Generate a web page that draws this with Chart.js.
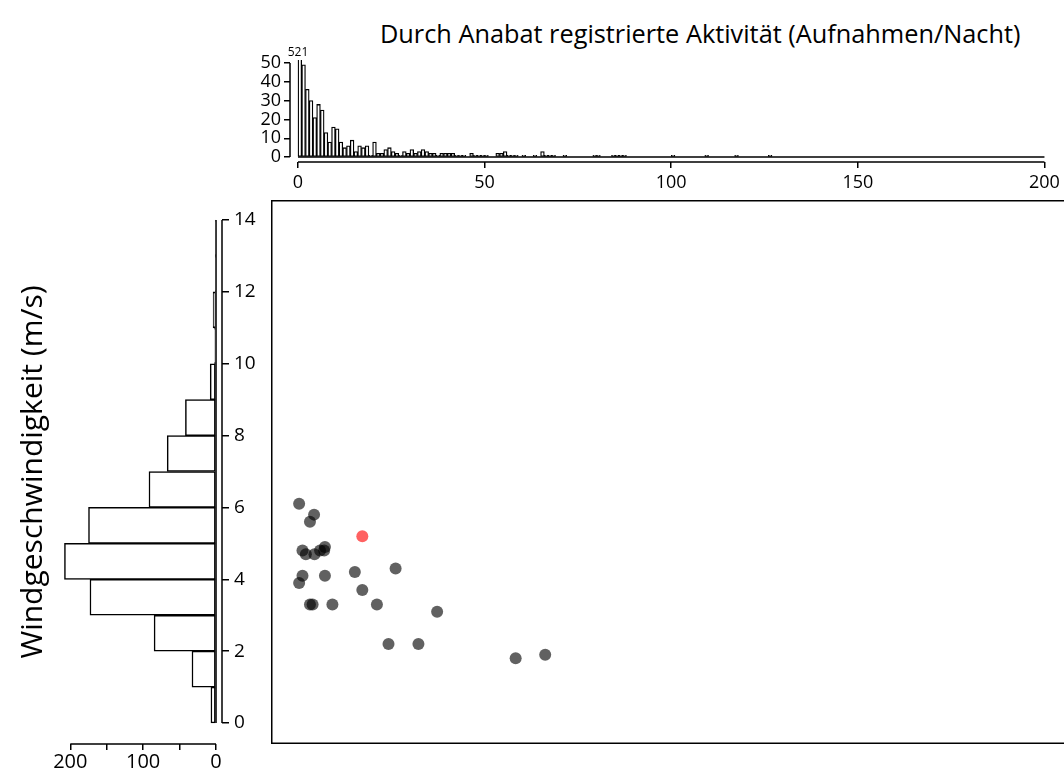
<!DOCTYPE html>
<html>
<head>
<meta charset="utf-8">
<script src="https://cdn.jsdelivr.net/npm/chart.js@4.4.1/dist/chart.umd.min.js"></script>
<style>
  html, body { margin: 0; padding: 0; background: #fff; overflow: hidden; width: 1064px; height: 776px; }
  #title { position: absolute; left: 380px; top: 16px; font-family: "Open Sans", "Noto Sans", sans-serif; font-size: 25.3px; line-height: 34px; white-space: nowrap; color: #000; }
  canvas { position: absolute; }
</style>
</head>
<body>
<div id="title">Durch Anabat registrierte Aktivität (Aufnahmen/Nacht)</div>
<canvas id="top" width="1064" height="200" style="left:0;top:0"></canvas>
<canvas id="side" width="271" height="576" style="left:0;top:200px"></canvas>
<canvas id="scatter" width="800" height="544" style="left:271px;top:200px"></canvas>
<script>
const FONT = '"Open Sans", "Noto Sans", sans-serif';
Chart.defaults.font.family = FONT;
Chart.defaults.color = '#000';

// Aktivität: Anzahl Nächte je Klasse (Breite 1 Aufnahme/Nacht), ab 0
const activityCounts = [
  521, 49, 36, 30, 21, 28, 25, 13, 8, 16,
  15, 8, 5, 6, 9, 3, 6, 5, 6, 1,
  8, 2, 2, 4, 5, 3, 2, 1, 3, 2,
  4, 2, 3, 4, 3, 2, 2, 1, 2, 2,
  2, 2, 1, 1, 1, 0, 2, 1, 1, 1,
  1, 0, 0, 2, 2, 3, 1, 1, 1, 0,
  1, 0, 0, 1, 0, 3, 1, 1, 1, 0,
  0, 1, 0, 0, 0, 0, 0, 0, 0, 1,
  1, 0, 0, 0, 1, 1, 1, 1, 0, 0,
  0, 0, 0, 0, 0, 0, 0, 0, 0, 0,
  1, 0, 0, 0, 0, 0, 0, 0, 0, 1,
  0, 0, 0, 0, 0, 0, 0, 1, 0, 0,
  0, 0, 0, 0, 0, 0, 1
];
const activityTicks = [0, 50, 100, 150, 200];
const activityCountTicks = [0, 10, 20, 30, 40, 50];

// Windgeschwindigkeit: Anzahl Nächte je Klasse 0-1, 1-2, ... m/s
const windCounts = [7, 33, 85, 173, 208, 175, 92, 67, 42, 8, 2, 4, 1, 1];
const windTicks = [0, 2, 4, 6, 8, 10, 12, 14];
const windCountTicks = [0, 50, 100, 150, 200];
const windCountLabels = [0, 100, 200];

// einzelne Nächte
const nightActivity = [0.3, 4.3, 3.2, 1.2, 2.1, 4.4, 5.9, 7.2, 7.0, 15.2, 26.1, 1.2, 7.2,
                       0.3, 17.2, 3.2, 3.9, 9.2, 21.1, 37.2, 24.2, 32.2, 58.2, 66.1];
const nightWind = [6.1, 5.8, 5.6, 4.8, 4.7, 4.7, 4.8, 4.9, 4.8, 4.2, 4.3, 4.1, 4.1,
                   3.9, 3.7, 3.3, 3.3, 3.3, 3.3, 3.1, 2.2, 2.2, 1.8, 1.9];
const markedActivity = [17.2];
const markedWind = [5.2];

const LW = 1.5;
const fixTicks = values => scale => { scale.ticks = values.map(v => ({ value: v })); };
const tickGrid = len => ({ display: true, drawOnChartArea: false, drawTicks: true, tickLength: len, color: '#000', lineWidth: LW, offset: false });
const common = {
  responsive: false,
  animation: false,
  devicePixelRatio: 1,
  plugins: { legend: { display: false }, tooltip: { enabled: false } }
};

// R-artige Achsen: Linie nur vom ersten bis zum letzten Tick
const topAxes = {
  id: 'topAxes',
  afterDatasetsDraw(chart) {
    const { ctx, chartArea: a, scales: { x, y } } = chart;
    const x0 = x.getPixelForValue(activityTicks[0]);
    const x1 = x.getPixelForValue(activityTicks[activityTicks.length - 1]);
    ctx.save();
    ctx.strokeStyle = '#000';
    ctx.lineWidth = LW;
    ctx.beginPath();
    const yb = y.getPixelForValue(0);
    ctx.moveTo(x0, yb); ctx.lineTo(x1, yb);
    ctx.moveTo(x0, a.bottom); ctx.lineTo(x1, a.bottom);
    ctx.moveTo(a.left, y.getPixelForValue(activityCountTicks[0]));
    ctx.lineTo(a.left, y.getPixelForValue(activityCountTicks[activityCountTicks.length - 1]));
    ctx.stroke();
    ctx.fillStyle = '#000';
    ctx.font = '12px ' + FONT;
    ctx.textAlign = 'center';
    ctx.textBaseline = 'bottom';
    ctx.fillText(String(activityCounts[0]), x.getPixelForValue(0), a.top - 1);
    ctx.restore();
  }
};

const sideAxes = {
  id: 'sideAxes',
  afterDatasetsDraw(chart) {
    const { ctx, chartArea: a, scales: { x, y } } = chart;
    ctx.save();
    ctx.strokeStyle = '#000';
    ctx.lineWidth = LW;
    ctx.beginPath();
    const xb = x.getPixelForValue(0);
    ctx.moveTo(xb, y.getPixelForValue(0)); ctx.lineTo(xb, y.getPixelForValue(windCounts.length));
    ctx.moveTo(a.right, y.getPixelForValue(windTicks[0]));
    ctx.lineTo(a.right, y.getPixelForValue(windTicks[windTicks.length - 1]));
    ctx.moveTo(x.getPixelForValue(windCountTicks[0]), a.bottom);
    ctx.lineTo(x.getPixelForValue(windCountTicks[windCountTicks.length - 1]), a.bottom);
    ctx.stroke();
    ctx.restore();
  }
};

const frame = {
  id: 'frame',
  afterDraw(chart) {
    const { ctx, chartArea: a } = chart;
    ctx.save();
    ctx.strokeStyle = '#000';
    ctx.lineWidth = LW;
    ctx.strokeRect(a.left + 0.75, a.top + 0.75, a.right - a.left - 1.5, a.bottom - a.top - 1.5);
    ctx.restore();
  }
};

new Chart(document.getElementById('top'), {
  type: 'bar',
  data: {
    datasets: [{
      data: activityCounts.map((c, i) => ({ x: i + 0.5, y: c })),
      backgroundColor: '#fff',
      borderColor: '#000',
      borderWidth: 1.3,
      borderSkipped: false,
      barPercentage: 1,
      categoryPercentage: 1
    }]
  },
  options: {
    ...common,
    layout: { padding: { top: 60, right: 10, left: 0, bottom: 0 } },
    scales: {
      x: {
        type: 'linear', offset: false, min: -2.14, max: 202.14,
        afterBuildTicks: fixTicks(activityTicks),
        afterFit: s => { s.height = 38; },
        grid: tickGrid(6), border: { display: false },
        ticks: { font: { size: 18 }, padding: 4, maxRotation: 0, autoSkip: false }
      },
      y: {
        min: -2.6, max: 51.6,
        afterBuildTicks: fixTicks(activityCountTicks),
        afterFit: s => { s.width = 290; s.paddingTop = 0; s.paddingBottom = 0; },
        grid: tickGrid(6), border: { display: false },
        ticks: { font: { size: 18 }, padding: 3, autoSkip: false }
      }
    }
  },
  plugins: [topAxes]
});

new Chart(document.getElementById('side'), {
  type: 'bar',
  data: {
    datasets: [{
      data: windCounts.map((c, i) => ({ x: c, y: i + 0.5 })),
      backgroundColor: '#fff',
      borderColor: '#000',
      borderWidth: LW,
      borderSkipped: false,
      barPercentage: 1,
      categoryPercentage: 1,
      yAxisID: 'y'
    }]
  },
  options: {
    ...common,
    indexAxis: 'y',
    layout: { padding: 0, autoPadding: false },
    scales: {
      x: {
        type: 'linear', reverse: true, min: -8.2, max: 210,
        afterBuildTicks: fixTicks(windCountTicks),
        afterFit: s => { s.height = 32; s.paddingLeft = 0; s.paddingRight = 0; },
        grid: tickGrid(6), border: { display: false },
        ticks: {
          font: { size: 20 }, padding: 0, maxRotation: 0, autoSkip: false,
          callback: v => windCountLabels.includes(v) ? String(v) : ''
        }
      },
      y: {
        type: 'linear', position: 'right', offset: false, min: -0.584, max: 14.557,
        afterBuildTicks: fixTicks(windTicks),
        afterFit: s => { s.width = 49; s.paddingTop = 0; s.paddingBottom = 0; },
        grid: tickGrid(7), border: { display: false },
        ticks: { font: { size: 19 }, padding: 5, autoSkip: false }
      },
      yl: {
        type: 'linear', position: 'left',
        afterFit: s => { s.width = 63; s.paddingTop = 0; s.paddingBottom = 0; },
        ticks: { display: false }, grid: { display: false }, border: { display: false },
        title: { display: true, text: 'Windgeschwindigkeit (m/s)', font: { size: 30 }, padding: { top: 15, bottom: 0 } }
      }
    }
  },
  plugins: [sideAxes]
});

new Chart(document.getElementById('scatter'), {
  type: 'scatter',
  data: {
    datasets: [
      {
        data: nightActivity.map((x, i) => ({ x, y: nightWind[i] })),
        backgroundColor: 'rgba(0,0,0,0.62)',
        borderWidth: 0,
        pointRadius: 6
      },
      {
        data: markedActivity.map((x, i) => ({ x, y: markedWind[i] })),
        backgroundColor: 'rgba(255,0,0,0.62)',
        borderWidth: 0,
        pointRadius: 6
      }
    ]
  },
  options: {
    ...common,
    layout: { padding: 0, autoPadding: false },
    scales: {
      x: { type: 'linear', display: false, min: -7.22, max: 206.7 },
      y: { type: 'linear', display: false, min: -0.584, max: 14.557 }
    }
  },
  plugins: [frame]
});
</script>
</body>
</html>
